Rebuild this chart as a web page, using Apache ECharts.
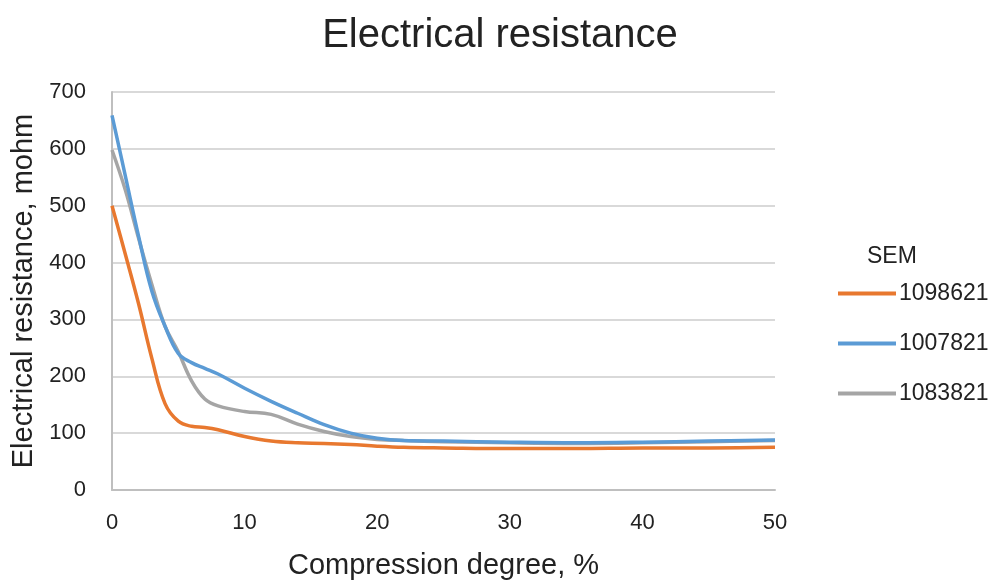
<!DOCTYPE html>
<html><head><meta charset="utf-8">
<script src="https://cdn.jsdelivr.net/npm/echarts@6/dist/echarts.min.js"></script>
<style>html,body{margin:0;padding:0;background:#fff}#c{width:992px;height:581px}</style>
</head><body><div id="c"></div>
<script>
const xValues = [0,1,2,3,4,5,6,7,8,10,12,14,16,18,20,22,25,30,35,40,45,50];
const s1098621 = [500,415,328,232,152,121,112,110,106,94,86,83,82,80,77,75,74,73,73,74,74,75];
const s1007821 = [659,553,447,350,288,240,224,214,204,179,156,135,115,100,91,87,86,84,83,84,86,88];
const s1083821 = [598,528,443,362,288,243,192,160,148,138,133,116,103,94,89,87,85,83,82,83,85,87];
const seriesNames = ['1098621','1007821','1083821'];
const colors = ['#E8782F','#5B9BD5','#A5A5A5'];
const pairs = a => xValues.map((x,i)=>[x,a[i]]);
const chart = echarts.init(document.getElementById('c'));
const font = 'Liberation Sans, Arial, sans-serif';
chart.setOption({
  animation:false,
  title:[
    {text:'Electrical resistance',left:495,top:11,textAlign:'center',textStyle:{fontSize:40,fontWeight:'normal',color:'#222',fontFamily:font}},
    {text:'SEM',left:862,top:240,textStyle:{fontSize:23,fontWeight:'normal',color:'#222',fontFamily:font}}
  ],
  legend:{orient:'vertical',left:833,top:277,itemWidth:58,itemHeight:4,itemGap:27,icon:'rect',
    textStyle:{fontSize:23,color:'#222',fontFamily:font,padding:[0,0,0,-2]},data:seriesNames},
  grid:{left:112,right:217,top:92,bottom:91,containLabel:false,outerBoundsMode:'none'},
  xAxis:{type:'value',min:0,max:50,interval:10,name:'Compression degree, %',nameLocation:'middle',nameGap:61,
    nameTextStyle:{fontSize:29,color:'#222',fontFamily:font},
    axisLine:{lineStyle:{color:'#bfbfbf',width:2}},axisTick:{show:false},splitLine:{show:false},
    axisLabel:{fontSize:22,color:'#222',fontFamily:font,margin:22}},
  yAxis:{type:'value',min:0,max:700,interval:100,name:'Electrical resistance, mohm',nameLocation:'middle',nameGap:73,
    nameTextStyle:{fontSize:29,color:'#222',fontFamily:font},
    axisLine:{show:true,lineStyle:{color:'#bfbfbf',width:2}},axisTick:{show:false},
    splitLine:{lineStyle:{color:'#d9d9d9',width:2}},
    axisLabel:{fontSize:22,color:'#222',fontFamily:font,margin:26}},
  series:[s1098621,s1007821,s1083821].map((d,i)=>({
    name:seriesNames[i],type:'line',smooth:0.4,showSymbol:false,data:pairs(d),
    lineStyle:{width:3.5,color:colors[i]},itemStyle:{color:colors[i]},z:3-i
  }))
});
</script></body></html>
